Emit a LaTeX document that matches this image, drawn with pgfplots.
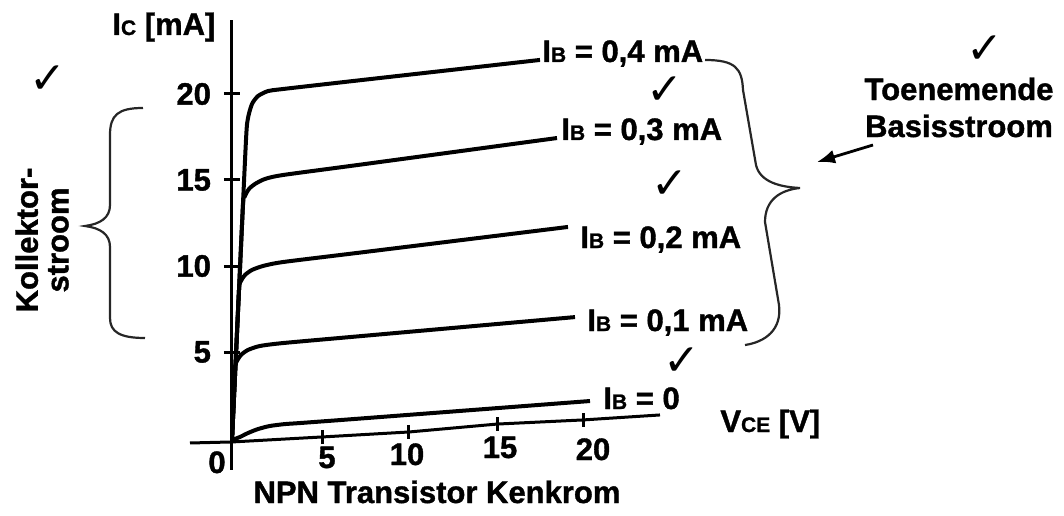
\documentclass[border=0pt]{standalone}
\usepackage{fontspec}
\setmainfont{Liberation Sans}[BoldFeatures={FakeBold=1.2}]
\newfontfamily\symfont{DejaVu Sans}
\usepackage{pgfplots}
\pgfplotsset{compat=1.18}
\usetikzlibrary{arrows.meta}

\newcommand{\lbl}{\fontsize{15.5}{18}\selectfont\bfseries}
\newcommand{\sub}[1]{{\fontsize{10.5}{12}\selectfont #1}}
\newcommand{\chk}{{\symfont\fontsize{22}{22}\selectfont ✓}}

% one pixel of the reference = 0.5pt
\begin{document}
\begin{tikzpicture}
\begin{axis}[
  scale only axis, width=235.375pt, height=224.976pt,
  xmin=-2.4, xmax=24.5, ymin=-1.86, ymax=24.3,
  axis x line=none, axis y line=middle,
  axis line style={line width=1.5pt, -},
  ytick={5,10,15,20},
  tick align=center, major tick length=8pt,
  tick style={line width=1.5pt, black},
  yticklabel style={font=\lbl, xshift=-3pt},
  /pgf/number format/assume math mode=true,
  clip=false,
  curve/.style={line width=2pt, black, smooth, tension=0.4},
]
% hand drawn V_CE axis, a little tilted
\addplot[line width=1.5pt, black, sharp plot, mark=|, mark indices={3,4,5,6},
  mark options={line width=1.5pt, mark size=3.5pt}] coordinates {
  (-2.4,-0.29) (0,-0.23) (5.143,0.06) (10.114,0.35) (15.143,0.81) (20.057,1.05) (24.457,1.34)};

% I_B = 0,4 mA
\addplot[curve] coordinates {
  (0,-0.12) (0.4,8.6) (0.8,17.33) (0.914,18.6) (1.143,19.42) (1.486,19.88)
  (2.057,20.17) (2.914,20.29) (7.314,20.80) (17.6,21.98)};
% I_B = 0,3 mA
\addplot[curve] coordinates {
  (0,-0.12) (0.314,6.7) (0.629,13.55) (0.743,14.07) (0.971,14.48) (1.314,14.77)
  (1.886,15.06) (2.914,15.29) (7.314,15.89) (18.571,17.44)};
% I_B = 0,2 mA
\addplot[curve] coordinates {
  (0,-0.12) (0.2,4.24) (0.4,8.6) (0.514,9.13) (0.743,9.48) (1.143,9.77)
  (1.771,10.0) (2.914,10.23) (7.314,10.78) (19.2,12.27)};
% I_B = 0,1 mA
\addplot[curve] coordinates {
  (0,-0.12) (0.086,2.0) (0.171,4.07) (0.286,4.48) (0.514,4.83) (0.914,5.12)
  (1.6,5.35) (2.914,5.52) (7.314,5.92) (19.6,7.03)};
% I_B = 0
\addplot[curve] coordinates {
  (0,-0.12) (0.457,0.06) (0.914,0.29) (1.486,0.52) (2.171,0.70) (3.029,0.81)
  (3.886,0.87) (7.314,1.13) (20.457,2.15)};

\coordinate (TL) at (axis cs:-13.257,25.465);
\end{axis}
\pgfresetboundingbox
\begin{scope}[shift={(TL)}, x=0.5pt, y=-0.5pt,
  every node/.style={inner sep=0pt, font=\lbl}]
  \useasboundingbox (0,0) rectangle (1064,515);
  % axis titles
  \node[anchor=base west] at (112,35) {I\sub{C} [mA]};
  \node[anchor=base west] at (720,432) {V\sub{CE} [V]};
  \node[anchor=base] at (437,503) {NPN Transistor Kenkrom};
  % x tick labels along the tilted axis
  \node[anchor=base] at (217,473) {0};
  \node[anchor=base] at (327,468) {5};
  \node[anchor=base] at (407,465) {10};
  \node[anchor=base] at (500,458) {15};
  \node[anchor=base] at (593,460) {20};
  % curve labels
  \node[anchor=base west] at (542,62) {I\sub{B} = 0,4 mA};
  \node[anchor=base west] at (561,140) {I\sub{B} = 0,3 mA};
  \node[anchor=base west] at (580,248) {I\sub{B} = 0,2 mA};
  \node[anchor=base west] at (587,331) {I\sub{B} = 0,1 mA};
  \node[anchor=base west] at (603,409) {I\sub{B} = 0};
  % right note
  \node[anchor=base] at (959,100) {Toenemende};
  \node[anchor=base] at (959,137) {Basisstroom};
  \draw[line width=1.4pt, -{Latex[length=9pt, width=7pt]}] (873,145) -- (817,162);
  % left note
  \node[rotate=90, align=center, font=\lbl\linespread{0.85}\selectfont] at (42,240) {Kollektor-\\stroom};
  % braces
  \draw[line width=1.1pt, black!85] (143,108) .. controls (118,108) and (110,115) .. (110,135)
    -- (110,205) .. controls (110,218) and (100,224) .. (85,226)
    .. controls (100,228) and (110,234) .. (110,247) -- (110,318)
    .. controls (110,332) and (120,338) .. (145,338);
  \draw[line width=1.1pt, black!85] (705,60) .. controls (735,60) and (742,68) .. (743,90)
    -- (756,165) .. controls (760,182) and (780,187) .. (800,188)
    .. controls (780,190) and (765,200) .. (765,222) -- (779,305)
    .. controls (782,330) and (765,342) .. (745,345);
  % check marks
  \node at (48,80) {\chk};
  \node at (665,91) {\chk};
  \node at (670,185) {\chk};
  \node at (682,362) {\chk};
  \node at (985,50) {\chk};
\end{scope}
\end{tikzpicture}
\end{document}
